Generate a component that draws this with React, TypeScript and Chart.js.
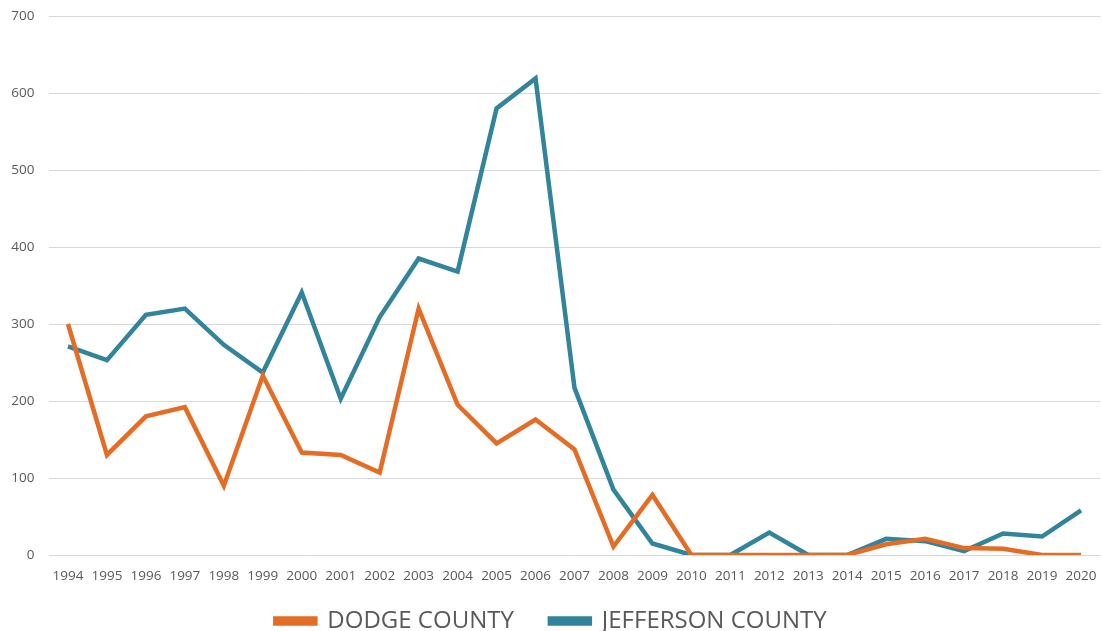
import React, { useEffect, useRef } from "react";
import { Chart, registerables } from "chart.js";

Chart.register(...registerables);

const years = [
  "1994", "1995", "1996", "1997", "1998", "1999", "2000", "2001", "2002",
  "2003", "2004", "2005", "2006", "2007", "2008", "2009", "2010", "2011",
  "2012", "2013", "2014", "2015", "2016", "2017", "2018", "2019", "2020",
];

const dodgeCounty = [
  300, 130, 180, 192, 90, 233, 133, 130, 107, 320, 195, 145, 176, 137, 11, 78,
  0, 0, 0, 0, 0, 14, 21, 9, 8, 0, 0,
];

const jeffersonCounty = [
  271, 253, 312, 320, 273, 237, 341, 203, 309, 385, 368, 580, 619, 217, 85, 15,
  0, 0, 29, 0, 0, 21, 18, 5, 28, 24, 58,
];

const seriesNames = ["DODGE COUNTY", "JEFFERSON COUNTY"];
const seriesColors = ["#E46C24", "#31849B"];

export default function App() {
  const canvasRef = useRef<HTMLCanvasElement | null>(null);

  useEffect(() => {
    if (!canvasRef.current) return;
    const chart = new Chart(canvasRef.current, {
      type: "line",
      data: {
        labels: years,
        datasets: [
          {
            label: seriesNames[0],
            data: dodgeCounty,
            borderColor: seriesColors[0],
            backgroundColor: seriesColors[0],
            borderWidth: 4.5,
            pointRadius: 0,
            tension: 0,
          },
          {
            label: seriesNames[1],
            data: jeffersonCounty,
            borderColor: seriesColors[1],
            backgroundColor: seriesColors[1],
            borderWidth: 4.5,
            pointRadius: 0,
            tension: 0,
          },
        ],
      },
      options: {
        animation: false,
        responsive: false,
        maintainAspectRatio: false,
        layout: { padding: { left: 0, right: 0, top: 16, bottom: -12 } },
        plugins: {
          tooltip: { enabled: false },
          legend: {
            position: "bottom",
            labels: {
              boxWidth: 40,
              boxHeight: 5,
              padding: 0,
              color: "#595959",
              font: { family: "Open Sans", size: 24 },
              generateLabels: (c: any) => {
                const items = Chart.defaults.plugins.legend.labels.generateLabels(c);
                items.forEach((it: any, i: number) => {
                  if (i < items.length - 1) it.text = it.text + "\u2002\u2002\u2002";
                });
                return items;
              },
            },
          },
        },
        scales: {
          x: {
            offset: true,
            grid: { display: false, drawTicks: false },
            border: { display: false },
            ticks: {
              color: "#595959",
              font: { family: "Open Sans", size: 13.5 },
              maxRotation: 0,
              autoSkip: false,
              padding: 13,
            },
            afterFit: (s: any) => {
              s.paddingLeft = 0;
              s.paddingRight = 1.5;
              s.height = 54;
            },
          },
          y: {
            min: 0,
            max: 700,
            grid: { color: "#D9D9D9", lineWidth: 1, drawTicks: false },
            border: { display: false },
            ticks: {
              stepSize: 100,
              color: "#595959",
              font: { family: "Open Sans", size: 13.5 },
              padding: 14,
            },
            afterFit: (s: any) => {
              s.paddingTop = 0;
              s.paddingBottom = 0;
              s.width = 48.5;
            },
          },
        },
      },
    });
    return () => chart.destroy();
  }, []);

  return (
    <div style={{ position: "fixed", left: 0, top: 0, width: 1102, height: 631, background: "#fff" }}>
      <canvas ref={canvasRef} width={1102} height={631} style={{ width: 1102, height: 631 }} />
    </div>
  );
}
